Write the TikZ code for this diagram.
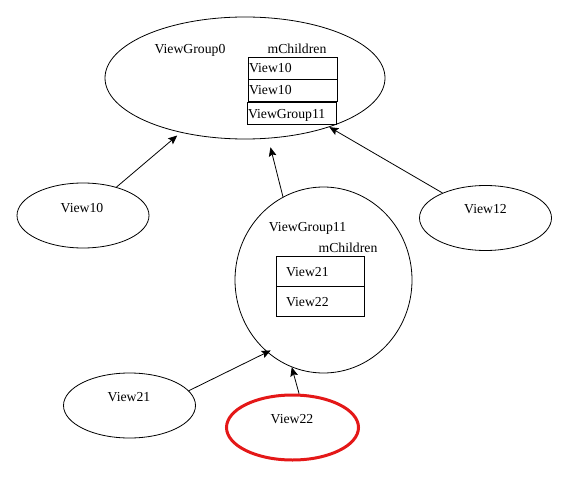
\documentclass[tikz,border=0pt]{standalone}
\usepackage{fontspec}
\setmainfont{Liberation Serif}
\usetikzlibrary{calc,positioning,arrows.meta,shapes.geometric}
\tikzset {>={Stealth[length=6.75pt,width=5.75pt,inset=1.2pt]}}
\definecolor{viewred}{RGB}{228,24,24}
\tikzset{
  every node/.style={font=\fontsize{10.3}{12}\selectfont},
  oval/.style={draw,ellipse,line width=.6pt,inner sep=0pt},
  leaf/.style={oval,minimum width=99pt,minimum height=48.75pt},
  cell/.style={draw,rectangle,line width=.6pt,outer sep=0pt,inner xsep=.75pt,inner ysep=0pt,
    text width=65.25pt,align=left,text height=12pt,text depth=4.5pt},
  subcell/.style={draw,rectangle,line width=.6pt,outer sep=0pt,inner xsep=7.5pt,inner ysep=0pt,
    text width=51pt,align=left,text height=15pt,text depth=7.5pt},
  conn/.style={->,line width=.6pt}
}
\begin{document}
\begin{tikzpicture}[x=.75pt,y=-.75pt]
\useasboundingbox (0,0) rectangle (581,499);

% root group
\node[oval,minimum width=210pt,minimum height=91.5pt] (vg0) at (245,78) {};
\node[anchor=base] (vg0t) at (190,54) {ViewGroup0};
\node[anchor=base] (vg0m) at (297,54) {mChildren};
\node[cell,anchor=north west] (c1) at (248,57) {View10};
\node[cell,below=0pt of c1] (c2) {View10};
\node[cell,below=.75pt of c2,xshift=-.75pt] (c3) {ViewGroup11};

% leaves of the root
\node[leaf] (v10) at (83,215.5) {};
\node[anchor=base] (v10t) at (82,212) {View10};
\node[leaf] (v12) at (485.5,218) {};
\node[anchor=base] (v12t) at (485.5,213) {View12};

% second group
\node[oval,minimum width=132.75pt,minimum height=139.5pt] (vg11) at (323.5,280) {};
\node[anchor=base] (vg11t) at (307.5,231.5) {ViewGroup11};
\node[anchor=base] (vg11m) at (348,252.5) {mChildren};
\node[subcell,anchor=north west] (d1) at (276,256) {View21};
\node[subcell,below=0pt of d1] (d2) {View22};

% leaves of the second group
\node[leaf] (v21) at (129.5,405.5) {};
\node[anchor=base] (v21t) at (129,401.5) {View21};
\node[leaf,draw=viewred,line width=2.25pt] (v22) at (292.5,427.5) {};
\node[anchor=base] (v22t) at (292,423.5) {View22};

% parent links
\draw[conn,shorten >=3.4pt] (v10) -- (vg0);
\draw[conn] (v12) -- (vg0);
\draw[conn,shorten >=6.75pt] (vg11.116) -- (vg0.-69);
\draw[conn,shorten >=-3pt] (v21.14) -- (vg11.232);
\draw[conn] (v22.79) -- (vg11.250);
\end{tikzpicture}
\end{document}
